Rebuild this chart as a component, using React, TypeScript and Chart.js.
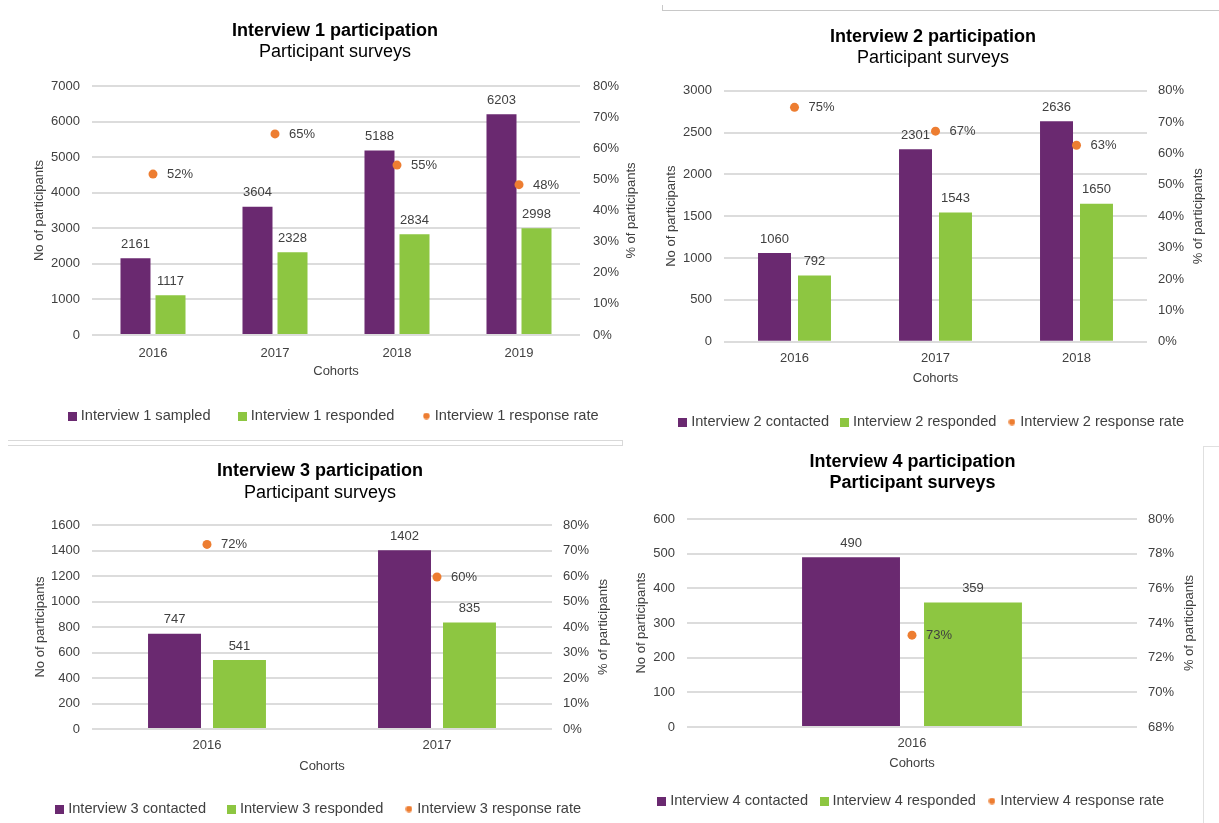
import React, { useEffect, useRef } from 'react';
import { Chart, registerables } from 'chart.js';

Chart.register(...registerables);

const FONT = "'Liberation Sans', Arial, Helvetica, sans-serif";
const PURPLE = '#6A2970';
const GREEN = '#8DC641';
const ORANGE = '#ED7D31';
const TEXT = '#404040';
const GRID = '#dcdcdc';

// ---- Interview 1 ----
const i1Cohorts = ['2016', '2017', '2018', '2019'];
const i1Sampled = [2161, 3604, 5188, 6203];
const i1Responded = [1117, 2328, 2834, 2998];
const i1Rate = [0.517, 0.646, 0.546, 0.483];
const i1Names = ['Interview 1 sampled', 'Interview 1 responded', 'Interview 1 response rate'];

// ---- Interview 2 ----
const i2Cohorts = ['2016', '2017', '2018'];
const i2Contacted = [1060, 2301, 2636];
const i2Responded = [792, 1543, 1650];
const i2Rate = [0.747, 0.671, 0.626];
const i2Names = ['Interview 2 contacted', 'Interview 2 responded', 'Interview 2 response rate'];

// ---- Interview 3 ----
const i3Cohorts = ['2016', '2017'];
const i3Contacted = [747, 1402];
const i3Responded = [541, 835];
const i3Rate = [0.724, 0.596];
const i3Names = ['Interview 3 contacted', 'Interview 3 responded', 'Interview 3 response rate'];

// ---- Interview 4 ----
const i4Cohorts = ['2016'];
const i4Contacted = [490];
const i4Responded = [359];
const i4Rate = [0.733];
const i4Names = ['Interview 4 contacted', 'Interview 4 responded', 'Interview 4 response rate'];

// axis ranges (count axis / percentage axis)
const i1Count = { max: 7000, step: 1000 };
const i2Count = { max: 3000, step: 500 };
const i3Count = { max: 1600, step: 200 };
const i4Count = { max: 600, step: 100 };
const pctFull = { min: 0, max: 0.8, step: 0.1 };
const pctNarrow = { min: 0.68, max: 0.8, step: 0.02 };

const SUBTITLE = 'Participant surveys';
const X_TITLE = 'Cohorts';
const Y_TITLE = 'No of participants';
const Y2_TITLE = '% of participants';

type Spec = {
  title: string;
  subtitleBold: boolean;
  cats: string[];
  s1: number[];
  s2: number[];
  rate: number[];
  names: string[];
  count: { max: number; step: number };
  pct: { min: number; max: number; step: number };
  box: { x: number; y: number; w: number; h: number };
  padL: number;
  padR: number;
  plotL: number;
  plotR: number;
  leftLabelRight: number;
  rightLabelLeft: number;
  leftTitleX: number;
  rightTitleX: number;
  T1: number;
  T2: number;
  PT: number;
  PB: number;
  XL: number;
  CC: number;
  LC: number;
  legPad: number;
  catPct: number;
  barPct: number;
};

const specs: Spec[] = [
  {
    title: 'Interview 1 participation', subtitleBold: false,
    cats: i1Cohorts, s1: i1Sampled, s2: i1Responded, rate: i1Rate, names: i1Names,
    count: i1Count, pct: pctFull,
    box: { x: 0, y: 0, w: 640, h: 440 }, padL: 30, padR: 0,
    plotL: 92, plotR: 580, leftLabelRight: 80, rightLabelLeft: 593,
    leftTitleX: 39, rightTitleX: 631,
    T1: 31, T2: 52, PT: 86, PB: 335, XL: 352, CC: 371, LC: 416, legPad: 31,
    catPct: 0.574, barPct: 0.857,
  },
  {
    title: 'Interview 2 participation', subtitleBold: false,
    cats: i2Cohorts, s1: i2Contacted, s2: i2Responded, rate: i2Rate, names: i2Names,
    count: i2Count, pct: pctFull,
    box: { x: 640, y: 0, w: 579, h: 440 }, padL: 7, padR: 0,
    plotL: 724, plotR: 1147, leftLabelRight: 712, rightLabelLeft: 1158,
    leftTitleX: 671, rightTitleX: 1198,
    T1: 37, T2: 58, PT: 90.7, PB: 341.7, XL: 357, CC: 378, LC: 422, legPad: 14.5,
    catPct: 0.567, barPct: 0.825,
  },
  {
    title: 'Interview 3 participation', subtitleBold: false,
    cats: i3Cohorts, s1: i3Contacted, s2: i3Responded, rate: i3Rate, names: i3Names,
    count: i3Count, pct: pctFull,
    box: { x: 0, y: 445, w: 640, h: 390 }, padL: 20, padR: 20,
    plotL: 92, plotR: 552, leftLabelRight: 80, rightLabelLeft: 563,
    leftTitleX: 40, rightTitleX: 603,
    T1: 471, T2: 493, PT: 525, PB: 729, XL: 744, CC: 766, LC: 809, legPad: 24.5,
    catPct: 0.565, barPct: 0.815,
  },
  {
    title: 'Interview 4 participation', subtitleBold: true,
    cats: i4Cohorts, s1: i4Contacted, s2: i4Responded, rate: i4Rate, names: i4Names,
    count: i4Count, pct: pctNarrow,
    box: { x: 625, y: 445, w: 575, h: 390 }, padL: 0, padR: 0,
    plotL: 687, plotR: 1137, leftLabelRight: 675, rightLabelLeft: 1148,
    leftTitleX: 641, rightTitleX: 1189,
    T1: 462, T2: 483, PT: 519, PB: 727, XL: 742, CC: 763, LC: 801, legPad: 15,
    catPct: 0.542, barPct: 0.803,
  },
];

function squareMarker(color: string, size: number) {
  const c = document.createElement('canvas');
  c.width = size;
  c.height = size;
  const ctx = c.getContext('2d')!;
  ctx.fillStyle = color;
  ctx.fillRect(0, 0, size, size);
  return c;
}
function dotMarker(color: string, size: number) {
  const c = document.createElement('canvas');
  c.width = size;
  c.height = size;
  const ctx = c.getContext('2d')!;
  ctx.fillStyle = color;
  ctx.beginPath();
  ctx.arc(size / 2, size / 2, size / 2 - 0.3, 0, Math.PI * 2);
  ctx.fill();
  return c;
}

const pctText = (v: number) => Math.round(v * 100) + '%';

const valueLabels = {
  id: 'valueLabels',
  afterDatasetsDraw(chart: any) {
    const ctx = chart.ctx;
    ctx.save();
    ctx.font = `13px ${FONT}`;
    ctx.fillStyle = TEXT;
    ctx.textBaseline = 'middle';
    chart.data.datasets.forEach((ds: any, i: number) => {
      const meta = chart.getDatasetMeta(i);
      meta.data.forEach((el: any, j: number) => {
        const v = ds.data[j];
        if (meta.type === 'bar') {
          ctx.textAlign = 'center';
          ctx.fillText(String(v), el.x, el.y - 14);
        } else {
          ctx.textAlign = 'left';
          ctx.fillText(pctText(v), el.x + 14, el.y + 0.5);
        }
      });
    });
    ctx.restore();
  },
};

const rightTitle = {
  id: 'rightTitle',
  afterDraw(chart: any, _args: any, opts: any) {
    const ctx = chart.ctx;
    const area = chart.chartArea;
    ctx.save();
    ctx.font = `13px ${FONT}`;
    ctx.fillStyle = TEXT;
    ctx.textAlign = 'center';
    ctx.textBaseline = 'middle';
    ctx.translate(opts.x, (area.top + area.bottom) / 2);
    ctx.rotate(-Math.PI / 2);
    ctx.fillText(opts.text, 0, 0);
    ctx.restore();
  },
};

function buildConfig(s: Spec): any {
  const left = s.box.x + s.padL;
  const leftW = s.plotL - left;
  const rightW = s.box.x + s.box.w - s.padR - s.plotR;
  const titlePadTop = s.T1 - s.box.y - 10.8;
  const subPadTop = s.T2 - s.T1 - 21.6;
  const subPadBottom = s.PT - s.T2 - 10.8;
  const xTickPad = Math.max(0, s.XL - s.PB - 14.8);
  const xpb = s.LC - 7.3 - s.legPad - (s.CC + 7.8);
  const H = s.CC + 7.8 + xpb - s.PB;
  const legendH = 14.6 + s.legPad + 10;
  const padBottom = s.box.y + s.box.h - s.PB - H - legendH;
  const markers = [squareMarker(PURPLE, 9), squareMarker(GREEN, 9), dotMarker(ORANGE, 7)];
  const colors = [PURPLE, GREEN, ORANGE];

  return {
    type: 'bar',
    data: {
      labels: s.cats,
      datasets: [
        {
          label: s.names[0], data: s.s1, backgroundColor: PURPLE, yAxisID: 'y',
          categoryPercentage: s.catPct, barPercentage: s.barPct, order: 1,
        },
        {
          label: s.names[1], data: s.s2, backgroundColor: GREEN, yAxisID: 'y',
          categoryPercentage: s.catPct, barPercentage: s.barPct, order: 1,
        },
        {
          type: 'line', label: s.names[2], data: s.rate, yAxisID: 'y1',
          showLine: false, pointRadius: 4.5, pointHoverRadius: 4.5,
          pointBackgroundColor: ORANGE, pointBorderWidth: 0, borderColor: ORANGE,
          backgroundColor: ORANGE, order: 0,
        },
      ],
    },
    options: {
      responsive: false,
      animation: false,
      devicePixelRatio: 1,
      layout: { padding: { left: s.padL, right: s.padR, top: 0, bottom: padBottom } },
      scales: {
        x: {
          grid: { display: false },
          border: { display: false },
          ticks: { color: TEXT, font: { family: FONT, size: 13 }, padding: xTickPad },
          title: {
            display: true, text: X_TITLE, color: TEXT,
            font: { family: FONT, size: 13 }, padding: { top: 0, bottom: xpb },
          },
          afterFit: (sc: any) => { sc.height = H; },
        },
        y: {
          position: 'left',
          min: 0, max: s.count.max,
          grid: { color: GRID, lineWidth: 2, drawTicks: false },
          border: { display: false },
          ticks: {
            stepSize: s.count.step, color: TEXT, font: { family: FONT, size: 13 },
            padding: s.plotL - s.leftLabelRight,
            callback: (v: any) => String(v),
          },
          title: {
            display: true, text: Y_TITLE, color: TEXT,
            font: { family: FONT, size: 13 },
            padding: { top: s.leftTitleX - left - 7.8, bottom: 0 },
          },
          afterFit: (sc: any) => { sc.width = leftW; },
        },
        y1: {
          position: 'right',
          min: s.pct.min, max: s.pct.max,
          grid: { display: false, drawTicks: false },
          border: { display: false },
          ticks: {
            stepSize: s.pct.step, color: TEXT, font: { family: FONT, size: 13 },
            padding: s.rightLabelLeft - s.plotR,
            callback: (v: any) => pctText(Number(v)),
          },
          afterFit: (sc: any) => { sc.width = rightW; },
        },
      },
      plugins: {
        tooltip: { enabled: false },
        title: {
          display: true, text: s.title, color: '#000',
          font: { family: FONT, size: 18, weight: 'bold', lineHeight: 1.2 },
          padding: { top: titlePadTop, bottom: 0 },
        },
        subtitle: {
          display: true, text: SUBTITLE, color: '#000',
          font: { family: FONT, size: 18, weight: s.subtitleBold ? 'bold' : 'normal', lineHeight: 1.2 },
          padding: { top: subPadTop, bottom: subPadBottom },
        },
        legend: {
          display: true,
          position: 'bottom',
          labels: {
            usePointStyle: true,
            boxWidth: 2,
            padding: s.legPad,
            color: TEXT,
            font: { family: FONT, size: 14.6 },
            generateLabels: () =>
              s.names.map((n, i) => ({
                text: n,
                fillStyle: colors[i],
                strokeStyle: 'rgba(0,0,0,0)',
                lineWidth: 0,
                pointStyle: markers[i],
                hidden: false,
                datasetIndex: i,
                fontColor: TEXT,
              })),
          },
        },
        rightTitle: { x: s.rightTitleX - s.box.x, text: Y2_TITLE },
      },
    },
    plugins: [valueLabels, rightTitle],
  };
}

function ChartBox({ spec }: { spec: Spec }) {
  const ref = useRef<HTMLCanvasElement>(null);
  useEffect(() => {
    const chart = new Chart(ref.current as HTMLCanvasElement, buildConfig(spec));
    return () => chart.destroy();
  }, [spec]);
  return (
    <canvas
      ref={ref}
      width={spec.box.w}
      height={spec.box.h}
      style={{
        position: 'absolute', left: spec.box.x, top: spec.box.y,
        width: spec.box.w, height: spec.box.h,
      }}
    />
  );
}

export default function App() {
  return (
    <div
      style={{
        position: 'fixed', left: 0, top: 0, width: 1219, height: 823,
        overflow: 'hidden', background: '#fff', fontFamily: FONT,
      }}
    >
      {/* frame remnants */}
      <div style={{ position: 'absolute', left: 8, top: 440, width: 614, height: 4, border: '1px solid #d9d9d9', borderLeft: 'none' }} />
      <div style={{ position: 'absolute', left: 662, top: 10, width: 557, height: 0, borderTop: '1px solid #c8c8c8' }} />
      <div style={{ position: 'absolute', left: 662, top: 5, width: 0, height: 5, borderLeft: '1px solid #c8c8c8' }} />
      <div style={{ position: 'absolute', left: 1203, top: 446, width: 16, height: 380, borderLeft: '1px solid #e0e0e0', borderTop: '1px solid #e0e0e0' }} />
      {specs.map((s, i) => (
        <ChartBox key={i} spec={s} />
      ))}
    </div>
  );
}
